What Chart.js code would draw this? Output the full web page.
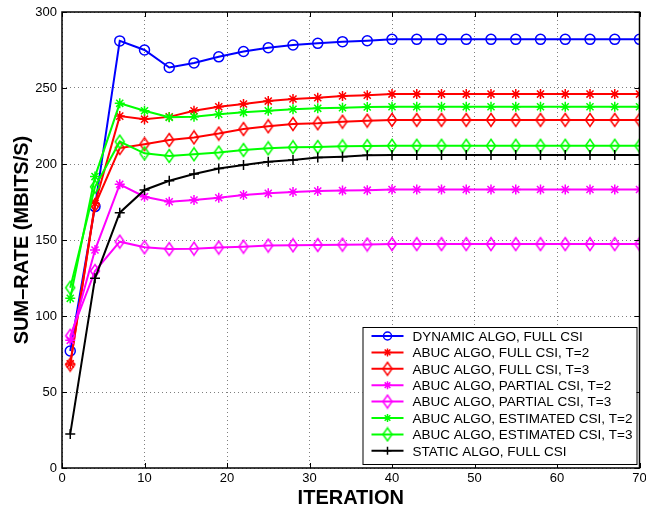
<!DOCTYPE html>
<html>
<head>
<meta charset="utf-8">
<script src="https://cdn.jsdelivr.net/npm/chart.js@4/dist/chart.umd.min.js"></script>
<style>
html, body { margin: 0; padding: 0; background: #fff; }
</style>
</head>
<body>
<canvas id="chart" width="646" height="511"></canvas>
<script>
// x positions of the markers (iteration number)
var iterations = [1, 4, 7, 10, 13, 16, 19, 22, 25, 28, 31, 34, 37, 40, 43, 46, 49, 52, 55, 58, 61, 64, 67, 70];

var dynamicFull   = [77, 172, 281, 275, 263.5, 266.5, 270.5, 274, 276.5, 278.3, 279.4, 280.5, 281.1, 282, 282, 282, 282, 282, 282, 282, 282, 282, 282, 282];
var abucFullT2    = [68.5, 174, 231.5, 229.5, 231, 235, 237.7, 239.5, 241.4, 242.8, 243.6, 244.7, 245.2, 246, 246, 246, 246, 246, 246, 246, 246, 246, 246, 246];
var abucFullT3    = [68, 173, 210.5, 213, 215.8, 217.5, 220, 223, 224.8, 226.3, 226.8, 227.8, 228.5, 229, 229, 229, 229, 229, 229, 229, 229, 229, 229, 229];
var abucPartialT2 = [84, 143.4, 186.6, 178.5, 175.2, 176.3, 177.8, 179.6, 180.7, 181.6, 182.2, 182.5, 182.8, 183.2, 183.2, 183.2, 183.2, 183.2, 183.2, 183.2, 183.2, 183.2, 183.2, 183.2];
var abucPartialT3 = [87, 129.6, 148.9, 145.2, 144, 144.3, 145, 145.6, 146.3, 146.5, 146.7, 146.9, 147, 147.3, 147.3, 147.3, 147.3, 147.3, 147.3, 147.3, 147.3, 147.3, 147.3, 147.3];
var abucEstT2     = [111.6, 191.7, 239.9, 235, 230.7, 231.1, 232.7, 234, 235, 236, 236.6, 237, 237.5, 237.7, 237.7, 237.7, 237.7, 237.7, 237.7, 237.7, 237.7, 237.7, 237.7, 237.7];
var abucEstT3     = [118.6, 185, 214.7, 207, 205.3, 206.4, 207.5, 209.2, 210.3, 211, 211.2, 211.6, 211.8, 212, 212, 212, 212, 212, 212, 212, 212, 212, 212, 212];
var staticFull    = [22.4, 124.8, 168, 182.9, 189, 193.4, 197.1, 199.3, 201.5, 202.6, 204.2, 204.8, 205.7, 206, 206, 206, 206, 206, 206, 206, 206, 206, 206, 206];

var seriesLabels = [
    'DYNAMIC ALGO, FULL CSI',
    'ABUC ALGO, FULL CSI, T=2',
    'ABUC ALGO, FULL CSI, T=3',
    'ABUC ALGO, PARTIAL CSI, T=2',
    'ABUC ALGO, PARTIAL CSI, T=3',
    'ABUC ALGO, ESTIMATED CSI, T=2',
    'ABUC ALGO, ESTIMATED CSI, T=3',
    'STATIC ALGO, FULL CSI'
];
var seriesValues = [dynamicFull, abucFullT2, abucFullT3, abucPartialT2, abucPartialT3, abucEstT2, abucEstT3, staticFull];
var seriesColors = ['#0000ff', '#ff0000', '#ff0000', '#ff00ff', '#ff00ff', '#00ff00', '#00ff00', '#000000'];
var seriesMarkers = ['circle', 'star', 'diamond', 'star', 'diamond', 'star', 'diamond', 'cross'];

var xTicks = [0, 10, 20, 30, 40, 50, 60, 70];
var yTicks = [0, 50, 100, 150, 200, 250, 300];

var FONT = '"Liberation Sans", Arial, Helvetica, sans-serif';

// matlab style diamond: taller than wide, hollow
function makeDiamond(color) {
    var c = document.createElement('canvas');
    c.width = 12; c.height = 16;
    var g = c.getContext('2d');
    g.strokeStyle = color;
    g.lineWidth = 1.5;
    g.beginPath();
    g.moveTo(6, 1.5); g.lineTo(10.5, 8); g.lineTo(6, 14.5); g.lineTo(1.5, 8);
    g.closePath();
    g.stroke();
    return c;
}

var datasets = seriesValues.map(function (vals, i) {
    var style = seriesMarkers[i] === 'diamond' ? makeDiamond(seriesColors[i]) : seriesMarkers[i];
    return {
        label: seriesLabels[i],
        data: vals.map(function (v, j) { return { x: iterations[j], y: v }; }),
        borderColor: seriesColors[i],
        backgroundColor: 'rgba(0,0,0,0)',
        borderWidth: 2,
        pointStyle: style,
        pointRadius: 5,
        pointBorderWidth: 1.5,
        pointBackgroundColor: 'rgba(0,0,0,0)',
        pointBorderColor: seriesColors[i],
        tension: 0,
        order: seriesValues.length - i
    };
});

// box around the axes plus inward tick marks, like the matlab plot
var frameTicks = {
    id: 'frameTicks',
    afterDatasetsDraw: function (chart) {
        var ctx = chart.ctx, a = chart.chartArea;
        var xs = chart.scales.x, ys = chart.scales.y;
        ctx.save();
        ctx.strokeStyle = '#000';
        ctx.lineWidth = 1;
        ctx.beginPath();
        xTicks.forEach(function (t) {
            var px = Math.round(xs.getPixelForValue(t)) + 0.5;
            ctx.moveTo(px, a.bottom); ctx.lineTo(px, a.bottom - 5);
            ctx.moveTo(px, a.top); ctx.lineTo(px, a.top + 5);
        });
        yTicks.forEach(function (t) {
            var py = Math.round(ys.getPixelForValue(t)) + 0.5;
            ctx.moveTo(a.left, py); ctx.lineTo(a.left + 5, py);
            ctx.moveTo(a.right, py); ctx.lineTo(a.right - 5, py);
        });
        ctx.stroke();
        ctx.lineWidth = 1.5;
        ctx.strokeRect(a.left, a.top, a.right - a.left, a.bottom - a.top);
        ctx.restore();
    }
};

// legend box in the lower right corner of the plot
var legendBox = {
    id: 'legendBox',
    afterDraw: function (chart) {
        var ctx = chart.ctx, a = chart.chartArea;
        var w = 274, h = 137;
        var x0 = a.right - 3 - w, y0 = a.bottom - 4 - h;
        ctx.save();
        ctx.fillStyle = '#fff';
        ctx.fillRect(x0, y0, w, h);
        ctx.strokeStyle = '#000';
        ctx.lineWidth = 1;
        ctx.strokeRect(x0 + 0.5, y0 + 0.5, w, h);
        ctx.font = '13.5px ' + FONT;
        ctx.textBaseline = 'middle';
        ctx.textAlign = 'left';
        chart.data.datasets.forEach(function (ds, i) {
            var y = y0 + 9 + i * 16.4;
            ctx.strokeStyle = ds.borderColor;
            ctx.lineWidth = 2;
            ctx.beginPath();
            ctx.moveTo(x0 + 9, y); ctx.lineTo(x0 + 41, y);
            ctx.stroke();
            ctx.lineWidth = 1.5;
            ctx.fillStyle = 'rgba(0,0,0,0)';
            Chart.helpers.drawPoint(ctx, {
                pointStyle: ds.pointStyle,
                radius: 4,
                rotation: 0,
                borderWidth: 1.5
            }, x0 + 25, y);
            ctx.fillStyle = '#000';
            ctx.fillText(ds.label, x0 + 50, y + 1);
        });
        ctx.restore();
    }
};

new Chart(document.getElementById('chart').getContext('2d'), {
    type: 'line',
    data: { datasets: datasets },
    options: {
        responsive: false,
        animation: false,
        devicePixelRatio: 1,
        layout: { padding: { left: 0, right: 6, top: 12, bottom: 0 } },
        plugins: {
            legend: { display: false },
            tooltip: { enabled: false }
        },
        scales: {
            x: {
                type: 'linear',
                min: 0,
                max: 70,
                afterBuildTicks: function (s) { s.ticks = xTicks.map(function (v) { return { value: v }; }); },
                afterFit: function (s) { s.height = 43; s.paddingLeft = 0; s.paddingRight = 0; },
                grid: { color: 'rgba(0,0,0,0.5)', lineWidth: 1, drawTicks: false },
                border: { display: false, dash: [1, 3] },
                ticks: { color: '#000', padding: 3, font: { family: FONT, size: 13 }, maxRotation: 0 },
                title: {
                    display: true,
                    text: 'ITERATION',
                    color: '#000',
                    font: { family: FONT, size: 20, weight: 'bold' },
                    padding: { top: 0, bottom: 1 }
                }
            },
            y: {
                type: 'linear',
                min: 0,
                max: 300,
                afterBuildTicks: function (s) { s.ticks = yTicks.map(function (v) { return { value: v }; }); },
                afterFit: function (s) { s.width = 62; s.paddingTop = 0; s.paddingBottom = 0; },
                grid: { color: 'rgba(0,0,0,0.5)', lineWidth: 1, drawTicks: false },
                border: { display: false, dash: [1, 3] },
                ticks: { color: '#000', padding: 5, font: { family: FONT, size: 13 } },
                title: {
                    display: true,
                    text: 'SUM\u2013RATE (MBITS/S)',
                    color: '#000',
                    font: { family: FONT, size: 20, weight: 'bold' },
                    padding: { top: 10, bottom: 0 }
                }
            }
        }
    },
    plugins: [frameTicks, legendBox]
});
</script>
</body>
</html>
